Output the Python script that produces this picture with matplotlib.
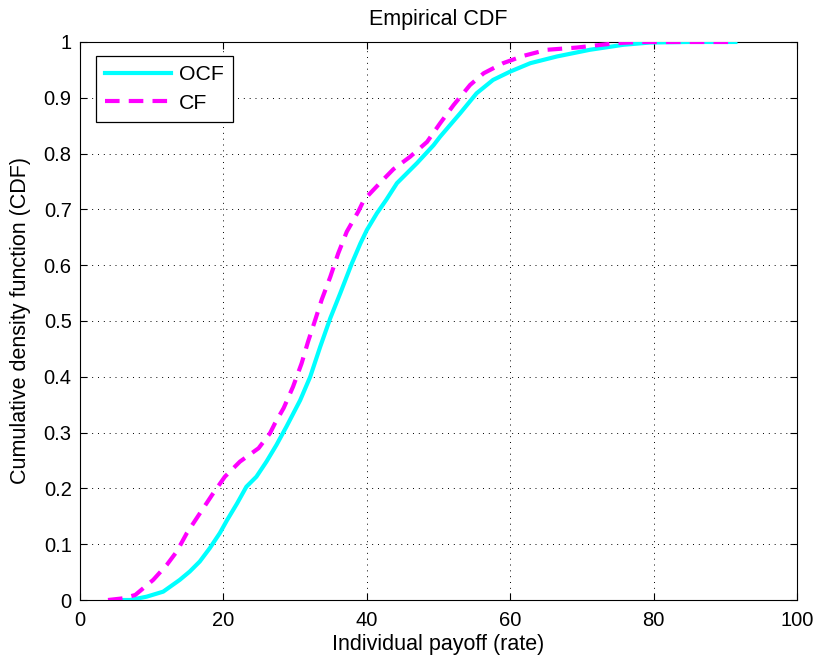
import matplotlib
matplotlib.use("Agg")
import matplotlib.pyplot as plt
import numpy as np

plt.rcParams['font.family'] = ['Liberation Sans', 'DejaVu Sans']

# OCF curve (x, cdf)
ocf_x = [6.0, 7.0, 9.3, 11.6, 13.9, 15.3, 16.7, 18.1, 19.5, 20.5, 21.9, 23.2, 24.6, 26.0, 27.4,
         28.8, 30.7, 32.1, 33.5, 34.9, 36.3, 37.9, 39.1, 40.0, 41.4, 42.7, 44.2, 47.0, 49.3, 50.2,
         53.0, 55.3, 57.6, 60.0, 62.8, 66.5, 71.1, 75.8, 79.5, 85.0, 91.4]
ocf_y = [0.0, 0.0, 0.006, 0.015, 0.036, 0.051, 0.069, 0.093, 0.120, 0.143, 0.173, 0.203, 0.221,
         0.248, 0.278, 0.311, 0.358, 0.400, 0.454, 0.505, 0.550, 0.603, 0.639, 0.663, 0.693, 0.717,
         0.747, 0.783, 0.815, 0.830, 0.872, 0.908, 0.932, 0.947, 0.962, 0.974, 0.986, 0.995, 0.999,
         1.0, 1.0]

# CF curve (x, cdf)
cf_x = [3.9, 6.0, 7.7, 10.2, 12.1, 13.5, 14.9, 16.7, 18.4, 20.2, 22.3, 24.9, 26.5, 27.2, 28.4,
        29.7, 30.9, 31.8, 32.8, 33.7, 34.9, 36.0, 37.2, 38.8, 39.6, 41.8, 43.7, 46.0, 48.4, 50.2,
        52.1, 54.4, 56.3, 59.0, 61.8, 65.1, 69.3, 74.8, 78.0, 91.0]
cf_y = [0.0, 0.003, 0.009, 0.036, 0.063, 0.087, 0.120, 0.155, 0.188, 0.221, 0.248, 0.272, 0.299,
        0.317, 0.344, 0.382, 0.424, 0.463, 0.502, 0.538, 0.579, 0.621, 0.660, 0.696, 0.717, 0.747,
        0.772, 0.794, 0.821, 0.854, 0.887, 0.923, 0.944, 0.962, 0.975, 0.986, 0.990, 0.998, 1.0,
        1.0]

xticks = [0, 20, 40, 60, 80, 100]
yticks = [0, 0.1, 0.2, 0.3, 0.4, 0.5, 0.6, 0.7, 0.8, 0.9, 1]
yticklabels = ['0', '0.1', '0.2', '0.3', '0.4', '0.5', '0.6', '0.7', '0.8', '0.9', '1']

fig = plt.figure(figsize=(8.15, 6.6), dpi=100)
ax = fig.add_axes([0.0982, 0.0909, 0.8798, 0.8455])

ax.plot(ocf_x, ocf_y, color='#00ffff', lw=3, label='OCF', zorder=3)
ax.plot(cf_x, cf_y, color='#ff00ff', lw=3, ls=(0, (3.5, 2.2)), label='CF', zorder=4)

ax.set_xlim(0, 100)
ax.set_ylim(0, 1)
ax.set_xticks(xticks)
ax.set_yticks(yticks)
ax.set_yticklabels(yticklabels)
ax.tick_params(direction='in', top=True, right=True, length=5, width=0.8, labelsize=14.5)
ax.tick_params(axis='x', pad=8)
ax.tick_params(axis='y', pad=6)
ax.grid(True, color='black', ls=(0, (1, 5)), lw=0.7)
for s in ax.spines.values():
    s.set_linewidth(0.8)

ax.set_xlabel('Individual payoff (rate)', fontsize=15.5, labelpad=3)
ax.set_ylabel('Cumulative density function (CDF)', fontsize=15.5, labelpad=9)
ax.set_title('Empirical CDF', fontsize=15.5, pad=12)

leg = ax.legend(loc='upper left', bbox_to_anchor=(0.0219, 0.9755), borderaxespad=0,
                fontsize=15.3, fancybox=False, framealpha=1, edgecolor='black',
                handlelength=3.1, handletextpad=0.35, borderpad=0.45, labelspacing=0.45)
leg.get_frame().set_linewidth(0.9)

fig.savefig('out.png', dpi=100)
